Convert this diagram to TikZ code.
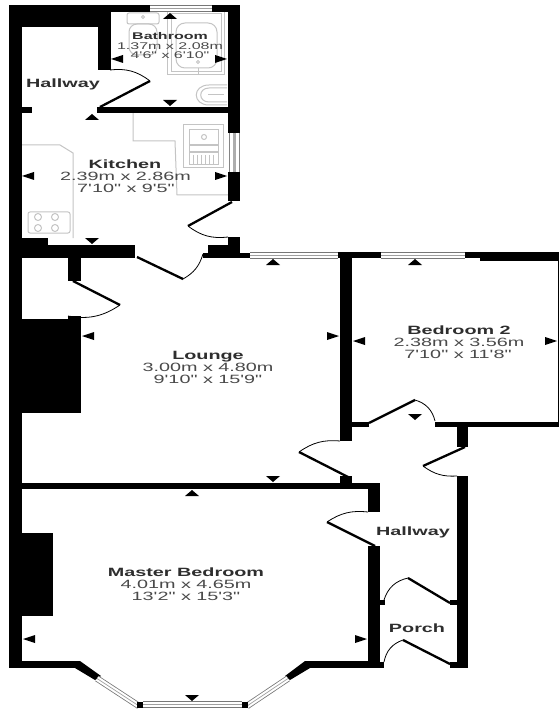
\documentclass[tikz,border=0pt]{standalone}
\usepackage{fontspec}
\newfontfamily\planfont[FakeStretch=1.65]{Liberation Sans}
\definecolor{namec}{HTML}{2E2E2E}
\definecolor{dimc}{HTML}{4A4A4A}
\definecolor{fix}{HTML}{C4C4C4}
\definecolor{wing}{HTML}{777777}
\newcommand\wallrect[4]{\fill[black] (#1,#2) rectangle (#3,#4);}
\newcommand\upA[2]{\fill[black] (#1,#2) -- (#1+7,#2+6) -- (#1-7,#2+6) -- cycle;}
\newcommand\downA[2]{\fill[black] (#1,#2) -- (#1+7,#2-6) -- (#1-7,#2-6) -- cycle;}
\newcommand\leftA[2]{\fill[black] (#1,#2) -- (#1+12,#2-4) -- (#1+12,#2+4) -- cycle;}
\newcommand\rightA[2]{\fill[black] (#1,#2) -- (#1-12,#2-4) -- (#1-12,#2+4) -- cycle;}
\newcommand\windowseg[4]{%
  \draw[line width=6.4pt,wing] (#1,#2) -- (#3,#4);
  \draw[line width=4.8pt,white] (#1,#2) -- (#3,#4);
  \draw[line width=0.7pt,wing!70] (#1,#2) -- (#3,#4);}
\tikzset{
  leaf/.style={line width=2.3pt,black,line cap=butt},
  swing/.style={line width=0.8pt,black},
  fixture/.style={line width=1pt,fix},
  bigt/.style={font=\planfont\fontsize{12}{12}\selectfont,dimc,inner sep=0pt,anchor=base},
  bigb/.style={font=\planfont\bfseries\fontsize{12}{12}\selectfont,namec,inner sep=0pt,anchor=base},
  smallt/.style={font=\planfont\fontsize{9.7}{10}\selectfont,dimc,inner sep=0pt,anchor=base},
  smallb/.style={font=\planfont\bfseries\fontsize{9.7}{10}\selectfont,namec,inner sep=0pt,anchor=base},
}
\begin{document}
\begin{tikzpicture}[x=1pt,y=-1pt]
\useasboundingbox (0,0) rectangle (559,711);
\fill[white] (0,0) rectangle (559,711);
% fixtures
\draw[fixture] (133,113) -- (133,141) -- (175,141) -- (177,195) -- (228,195);
\draw[fixture] (22,145) -- (60,145) -- (73,153) -- (73,238);
\draw[fixture,fill=white] (183,125) rectangle (223,168);
\draw[fixture] (189,130) rectangle (218,145);
\draw[fixture] (189,146) rectangle (218,152);
\draw[fixture] (189,153) rectangle (218,165);
\foreach \x in {193,197,201,205,209,213}{\draw[fixture,line width=.8pt] (\x,155) -- (\x,164);}
\draw[fixture] (204,137) circle (2.5);
\draw[fixture,fill=white,rounded corners=2pt] (28,212) rectangle (70,233);
\foreach \x/\y in {38/217,55/217,38/228,55/228}{\draw[fixture] (\x,\y) circle (3.5);}
\draw[fixture,rounded corners=2pt] (127,13) rectangle (159,24);
\draw[fixture,rounded corners=8pt] (129,24) rectangle (157,55);
\draw[fixture] (143,17) circle (1.5);
\draw[fixture] (167,12) rectangle (224,75);
\draw[fixture] (171,14) rectangle (221,72);
\draw[fixture,rounded corners=9pt] (176,23) rectangle (217,68);
\draw[fixture] (198,62) circle (1.5);
\draw[fixture] (198,68) -- (198,74) (191,72) -- (205,72);
\draw[fixture] (227,85) -- (209,85) .. controls (192,85) and (192,105) .. (209,105) -- (227,105);
\draw[fixture] (227,88) -- (209,88) .. controls (198,88) and (198,102) .. (209,102) -- (227,102);
\draw[fixture] (208,95) -- (224,95);
% walls
\wallrect{9}{5}{22}{668}
\wallrect{9}{5}{150}{12}
\wallrect{212}{5}{240}{12}
\wallrect{22}{12}{98}{27}
\wallrect{98}{12}{110.5}{70}
\wallrect{228}{5}{240}{133}
\wallrect{228}{172}{240}{201}
\wallrect{97}{107}{228}{113}
\wallrect{22}{107}{32}{113}
\wallrect{22}{238}{48}{258}
\wallrect{22}{244.5}{135}{258}
\wallrect{208}{244.5}{240}{258}
\wallrect{228}{237}{240}{258}
\wallrect{203}{253}{250}{258}
\wallrect{68}{258}{81}{281}
\wallrect{22}{319}{81}{413}
\wallrect{68}{316}{81}{320}
\wallrect{22}{483}{380}{489}
\wallrect{340}{252}{352}{441}
\wallrect{338}{252}{381}{258}
\wallrect{465}{252}{559}{258}
\wallrect{480}{258}{559}{261}
\wallrect{557.5}{252}{559}{427}
\wallrect{352}{421.5}{369}{427}
\wallrect{435}{421.5}{559}{427}
\wallrect{457}{427}{468}{447}
\wallrect{457}{476}{468}{668}
\wallrect{340}{476}{352}{483}
\wallrect{368}{483}{380}{512}
\wallrect{368}{546}{380}{668}
\wallrect{380}{600}{385}{605}
\wallrect{450}{600}{457}{605}
\wallrect{450}{662}{457}{668}
\wallrect{380}{662}{384}{668}
\wallrect{22}{533}{53}{616}
\wallrect{22}{661}{80}{668}
\wallrect{305}{661}{368}{668}
\fill[black] (75,668) -- (80,661) -- (101,676) -- (95,680) -- cycle;
\fill[black] (310,661) -- (305,661) -- (285,676) -- (290,680) -- (310,668) -- cycle;
% windows
\windowseg{150}{8.5}{212}{8.5}
\draw[line width=11pt,wing!90] (234,133) -- (234,172);
\draw[line width=9pt,white] (234,133) -- (234,172);
\draw[line width=3pt,wing!60] (234,133) -- (234,172);
\windowseg{250}{255.5}{338}{255.5}
\windowseg{381}{255.5}{465}{255.5}
\windowseg{143}{704.5}{242}{704.5}
\windowseg{97}{678.5}{139}{706}
\windowseg{288}{678.5}{247}{706}
\wallrect{137}{702}{143}{708}
\wallrect{242}{702}{248}{708}
% doors
\draw[leaf] (100,107) -- (150,81);
\draw[swing] (150,81) to[bend right=22] (110,70);
\draw[leaf] (232,202) -- (188,226);
\draw[swing] (188,226) to[bend right=22] (228,237);
\draw[leaf] (137,257) -- (183,279);
\draw[swing] (183,279) to[bend right=22] (203,254);
\draw[leaf] (73,281) -- (120,305);
\draw[swing] (120,305) to[bend left=22] (68,316);
\draw[leaf] (369,423) -- (415,400);
\draw[swing] (415,400) to[bend left=30] (435,421);
\draw[leaf] (350,478) -- (299,452);
\draw[swing] (299,452) to[bend left=20] (340,441);
\draw[leaf] (465,447) -- (423,466);
\draw[swing] (423,466) to[bend right=20] (457,476);
\draw[leaf] (375,546) -- (327,522);
\draw[swing] (327,522) to[bend left=20] (368,512);
\draw[leaf] (450,603) -- (408,578);
\draw[swing] (408,578) to[bend right=30] (384,600);
\draw[leaf] (450,664) -- (403,640);
\draw[swing] (403,640) to[bend right=30] (384,662);
% dimension marks
\upA{170}{13}\downA{170}{106}\leftA{111}{59}\rightA{227}{59}
\upA{92}{114}\downA{92}{244}\leftA{22}{176}\rightA{227}{176}
\upA{273}{259}\downA{273}{482}\leftA{82}{336}\rightA{339}{336}
\upA{415}{259}\downA{415}{420}\leftA{353}{341}\rightA{557}{341}
\upA{192}{490}\downA{192}{701}\leftA{23}{639}\rightA{367}{639}
% labels
\node[smallb] (bathname) at (170,39.5) {Bathroom};
\node[smallt] (bathsize) at (170,49.5) {1.37m x 2.08m};
\node[smallt] (bathimp) at (170,59) {4'6" x 6'10"};
\node[bigb] (hall1) at (63,87.5) {Hallway};
\node[bigb] (kitname) at (125,169) {Kitchen};
\node[bigt] (kitsize) at (125.5,181) {2.39m x 2.86m};
\node[bigt] (kitimp) at (126,193) {7'10" x 9'5"};
\node[bigb] (loungename) at (208,359) {Lounge};
\node[bigt] (loungesize) at (208,371) {3.00m x 4.80m};
\node[bigt] (loungeimp) at (208,383) {9'10" x 15'9"};
\node[bigb] (bed2name) at (459,334) {Bedroom 2};
\node[bigt] (bed2size) at (459,346) {2.38m x 3.56m};
\node[bigt] (bed2imp) at (458,358) {7'10" x 11'8"};
\node[bigb] (mastername) at (186,576.5) {Master Bedroom};
\node[bigt] (mastersize) at (186,588.5) {4.01m x 4.65m};
\node[bigt] (masterimp) at (186,600.5) {13'2" x 15'3"};
\node[bigb] (hall2) at (413,535.5) {Hallway};
\node[bigb] (porch) at (417,632) {Porch};
\end{tikzpicture}
\end{document}
